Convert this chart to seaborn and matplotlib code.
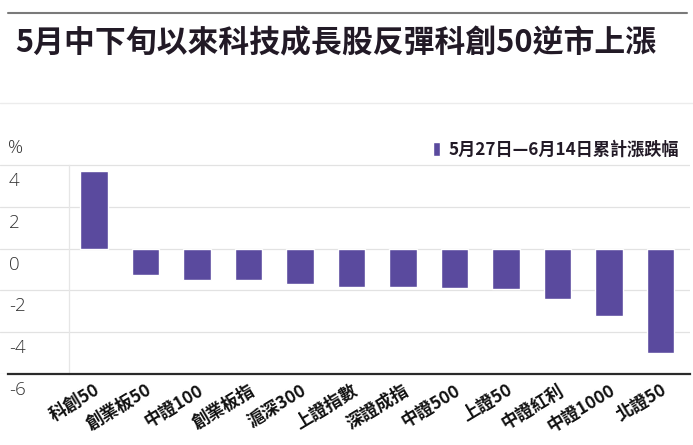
import matplotlib
matplotlib.use('Agg')
import matplotlib.pyplot as plt
from matplotlib.lines import Line2D
from matplotlib.patches import Patch
import seaborn as sns
import pandas as pd

# Chart data
categories = ['科創50', '創業板50', '中證100', '創業板指', '滬深300', '上證指數',
              '深證成指', '中證500', '上證50', '中證紅利', '中證1000', '北證50']
changes = [3.7, -1.25, -1.5, -1.5, -1.7, -1.85, -1.85, -1.88, -1.95, -2.4, -3.2, -5.0]
y_ticks = [-6, -4, -2, 0, 2, 4]
title = '5月中下旬以來科技成長股反彈科創50逆市上漲'
legend_label = '5月27日—6月14日累計漲跌幅'
unit_label = '%'

BAR_COLOR = '#5a4a9e'
TEXT_COLOR = '#221a26'
GRID_COLOR = '#e2e2e2'

sns.set_style('white')
plt.rcParams['font.family'] = ['Noto Sans CJK TC', 'DejaVu Sans']

W, H = 693, 445
fig = plt.figure(figsize=(W / 100, H / 100), dpi=100)
ax = fig.add_axes([0, (H - 374) / H, 690 / W, 213 / H])

df = pd.DataFrame({'index': categories, 'change': changes})
sns.barplot(data=df, x='index', y='change', color=BAR_COLOR, saturation=1,
            width=0.54, ax=ax)

ax.set_xlim(-1.825, 11.573)
ax.set_ylim(-6, 4.2)
ax.set_xlabel('')
ax.set_ylabel('')

# horizontal grid, labels drawn by hand below each line
ax.set_yticks(y_ticks)
ax.set_yticklabels([])
ax.tick_params(axis='y', length=0)
ax.yaxis.grid(True, color=GRID_COLOR, linewidth=0.9)
ax.set_axisbelow(True)
for v in y_ticks:
    ax.annotate(str(v), xy=(0, v), xycoords=('axes fraction', 'data'),
                xytext=(9, -16), textcoords='offset pixels', ha='left', va='center',
                fontsize=13.5, fontweight='light', color='#333333',
                family=['Open Sans', 'DejaVu Sans'])

# spines
for side in ['top', 'right']:
    ax.spines[side].set_visible(False)
ax.spines['bottom'].set_color('#2a2a2a')
ax.spines['bottom'].set_linewidth(1.6)
ax.spines['bottom'].set_bounds(-1.67, 11.573)
ax.spines['left'].set_position(('data', -0.485))
ax.spines['left'].set_color('#e6e6e6')
ax.spines['left'].set_linewidth(0.9)
ax.spines['left'].set_bounds(-6, 4)

ax.set_xticks(range(len(categories)))
ax.set_xticklabels(categories, rotation=31, ha='right', va='top', rotation_mode='anchor',
                   fontsize=12.5, fontweight='heavy', color='#111111')
ax.tick_params(axis='x', length=3, width=1, color='#111111', pad=2, direction='out')

# legend
ax.legend(handles=[Patch(facecolor=BAR_COLOR, label=legend_label)],
          loc='center right', bbox_to_anchor=(688 / W, 1 - 150 / H),
          bbox_transform=fig.transFigure, frameon=False, borderpad=0,
          handlelength=0.36, handleheight=0.9, handletextpad=0.55,
          prop={'size': 12.3, 'weight': 'bold'}, labelcolor=TEXT_COLOR)

# unit, title and rules
fig.text(8 / W, 1 - 148 / H, unit_label, fontsize=13.5, fontweight='light', color='#333333',
         family=['Open Sans', 'DejaVu Sans'], va='center', ha='left')
fig.text(15 / W, 1 - 43 / H, title, fontsize=22.2, fontweight='heavy', color=TEXT_COLOR,
         va='center', ha='left')
fig.add_artist(Line2D([8 / W, 687 / W], [1 - 13 / H] * 2, color='#7a7a7a', linewidth=1.5))
fig.add_artist(Line2D([0, 1], [1 - 103 / H] * 2, color='#ececec', linewidth=1.0))

fig.savefig('out.png', dpi=100)
